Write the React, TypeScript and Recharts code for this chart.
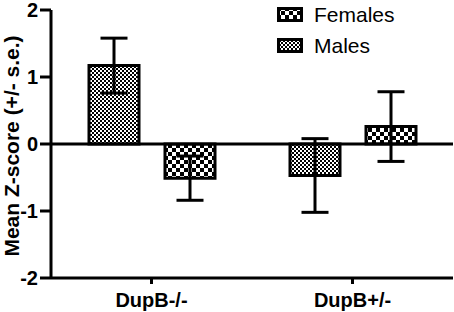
import React from 'react';
import { BarChart, Bar, XAxis, YAxis, ReferenceLine, ErrorBar } from 'recharts';

const categories = ['DupB-/-', 'DupB+/-'];
const malesMean = [1.17, -0.47];
const malesErr = [0.41, 0.55];
const femalesMean = [-0.51, 0.26];
const femalesErr = [0.33, 0.52];
const yTicks = [-2, -1, 0, 1, 2];
const legendItems = [
  { name: 'Females', pattern: 'coarseCheck' },
  { name: 'Males', pattern: 'fineCheck' },
];

const data = categories.map((c, i) => ({
  name: c,
  males: malesMean[i],
  malesErr: malesErr[i],
  females: femalesMean[i],
  femalesErr: femalesErr[i],
}));

const FONT = '"Liberation Sans", Arial, Helvetica, sans-serif';

const LegendBox = () => (
  <div style={{ position: 'absolute', left: 277, top: -1, fontFamily: FONT, fontSize: 21, color: '#000' }}>
    {legendItems.map((it) => (
      <div key={it.name} style={{ display: 'flex', alignItems: 'center', height: 31 }}>
        <svg width={26} height={15} style={{ display: 'block' }}>
          <rect x={1.5} y={1.5} width={23} height={12} fill={`url(#${it.pattern})`} stroke="#000" strokeWidth={3} />
        </svg>
        <span style={{ marginLeft: 11, lineHeight: '21px' }}>{it.name}</span>
      </div>
    ))}
  </div>
);

export default function App() {
  return (
    <div style={{ position: 'absolute', left: 0, top: 0, width: 454, height: 312, background: '#fff' }}>
      <BarChart
        width={454}
        height={312}
        data={data}
        margin={{ top: 10, right: 1, left: 0, bottom: 0 }}
        barSize={50}
        barGap={26}
      >
        <defs>
          <pattern id="fineCheck" width={4} height={4} patternUnits="userSpaceOnUse">
            <rect x={0} y={0} width={4} height={4} fill="#fff" />
            <rect x={0} y={0} width={2} height={2} fill="#000" />
            <rect x={2} y={2} width={2} height={2} fill="#000" />
          </pattern>
          <pattern id="coarseCheck" width={8} height={8} patternUnits="userSpaceOnUse">
            <rect x={0} y={0} width={8} height={8} fill="#fff" />
            <rect x={0} y={0} width={4} height={4} fill="#000" />
            <rect x={4} y={4} width={4} height={4} fill="#000" />
          </pattern>
        </defs>
        <XAxis
          dataKey="name"
          height={34}
          tickSize={6}
          tickMargin={9}
          axisLine={{ stroke: '#000', strokeWidth: 3 }}
          tickLine={{ stroke: '#000', strokeWidth: 3 }}
          tick={{ fill: '#000', fontSize: 20, fontWeight: 'bold', fontFamily: FONT }}
        />
        <YAxis
          width={51}
          domain={[-2, 2]}
          ticks={yTicks}
          tickSize={11}
          interval={0}
          axisLine={{ stroke: '#000', strokeWidth: 3 }}
          tickLine={{ stroke: '#000', strokeWidth: 3 }}
          tick={{ fill: '#000', fontSize: 20, fontWeight: 'bold', fontFamily: FONT }}
          label={{
            content: () => (
              <text
                x={11.5}
                y={146}
                transform="rotate(-90 11.5 146)"
                textAnchor="middle"
                dominantBaseline="central"
                fill="#000"
                fontSize={21}
                fontWeight="bold"
                fontFamily={FONT}
              >
                Mean Z-score (+/- s.e.)
              </text>
            ),
          }}
        />
        <ReferenceLine y={0} stroke="#000" strokeWidth={3} />
        <Bar dataKey="males" name="Males" fill="url(#fineCheck)" stroke="#000" strokeWidth={3} isAnimationActive={false}>
          <ErrorBar dataKey="malesErr" width={13.5} stroke="#000" strokeWidth={3} direction="y" />
        </Bar>
        <Bar dataKey="females" name="Females" fill="url(#coarseCheck)" stroke="#000" strokeWidth={3} isAnimationActive={false}>
          <ErrorBar dataKey="femalesErr" width={13.5} stroke="#000" strokeWidth={3} direction="y" />
        </Bar>
      </BarChart>
      <LegendBox />
    </div>
  );
}
